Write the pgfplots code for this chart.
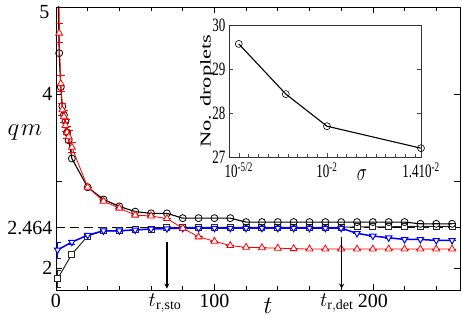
\documentclass[border=0pt]{standalone}
\usepackage{pgfplots}
\pgfplotsset{compat=1.18}
\usepackage{fontspec}
\setmainfont{Liberation Serif}
\newcommand{\st}[1]{\scalebox{1}[1.45]{#1}}
\begin{document}
\begin{tikzpicture}
\begin{axis}[
  scale only axis, width=404pt, height=283pt,
  xmin=0, xmax=255, ymin=1.75, ymax=5,
  xtick={0,100,200}, xticklabels={0,100,200},
  minor xtick={20,40,60,80,120,140,160,180,220,240},
  ytick={2,3,4,5}, yticklabels={2,,4,},
  extra y ticks={2.464}, extra y tick labels={2.464},
  tick label style={font=\fontsize{20}{22}\selectfont},
  tick align=inside,
  major tick length=6pt, minor tick length=4pt,
  axis line style={line width=0.9pt},
  every tick/.style={black, line width=0.7pt},
  clip mode=individual,
  xticklabel style={yshift=-1pt},
]
\draw[black, line width=1.2pt, dash pattern=on 9pt off 5pt] (axis cs:0,2.464) -- (axis cs:255,2.464);
% squares
\addplot[black!85, line width=1pt, mark=square*, mark size=3pt, mark options={fill=white, solid},
  error bars/.cd, y dir=both, y explicit] coordinates {
(1,1.88) +- (0,0.1) (10,2.16) +- (0,0) (20,2.37) +- (0,0) (30,2.43) +- (0,0) (40,2.43) +- (0,0) (50,2.44) +- (0,0) (60,2.45) +- (0,0)
(70,2.47) +- (0,0) (80,2.47) +- (0,0) (90,2.47) +- (0,0) (100,2.47) +- (0,0) (110,2.47) +- (0,0) (120,2.47) +- (0,0) (130,2.47) +- (0,0)
(140,2.47) +- (0,0) (150,2.47) +- (0,0) (160,2.47) +- (0,0) (170,2.47) +- (0,0) (180,2.47) +- (0,0) (190,2.475) +- (0,0)
(200,2.475) +- (0,0) (210,2.475) +- (0,0) (220,2.48) +- (0,0) (230,2.48) +- (0,0) (240,2.48) +- (0,0) (250,2.48) +- (0,0)};
% blue
\addplot[blue, line width=1.5pt, mark=triangle*, mark size=3.6pt, mark options={fill=white, solid, rotate=180, line width=1pt},
  error bars/.cd, y dir=both, y explicit] coordinates {
(1,2.21) +- (0,0.09) (10,2.30) +- (0,0.02) (20,2.38) +- (0,0) (30,2.43) +- (0,0) (40,2.43) +- (0,0) (50,2.44) +- (0,0) (60,2.45) +- (0,0)
(70,2.455) +- (0,0) (80,2.46) +- (0,0) (90,2.46) +- (0,0) (100,2.46) +- (0,0) (110,2.46) +- (0,0) (120,2.46) +- (0,0) (130,2.46) +- (0,0)
(140,2.46) +- (0,0) (150,2.46) +- (0,0) (160,2.46) +- (0,0) (170,2.46) +- (0,0) (180,2.46) +- (0,0) (190,2.40) +- (0,0)
(200,2.37) +- (0,0) (210,2.35) +- (0,0) (220,2.33) +- (0,0) (230,2.33) +- (0,0) (240,2.32) +- (0,0) (250,2.32) +- (0,0)};
% circles
\addplot[black, line width=1.1pt, mark=o, mark size=3.5pt, mark options={fill=white, solid, line width=0.8pt}] coordinates {
(0.5,6.0) (2,4.47) (3,4.08) (4,3.86) (5,3.76) (6,3.69) (7,3.56) (8,3.47) (10,3.26) (20,2.93) (30,2.79) (40,2.71) (50,2.65)
(60,2.63) (70,2.63) (80,2.575) (90,2.575) (100,2.575) (110,2.575) (120,2.53) (130,2.53) (140,2.53) (150,2.53) (160,2.53)
(170,2.53) (180,2.53) (190,2.53) (200,2.53) (210,2.53) (220,2.53) (230,2.51) (240,2.51) (250,2.51)};
% red
\addplot[red, line width=0.8pt, mark=triangle*, mark size=4pt, mark options={fill=white, solid, line width=0.8pt},
  error bars/.cd, y dir=both, y explicit, error bar style={line width=0.8pt}, error mark options={rotate=90, mark size=4pt, line width=0.8pt}] coordinates {
(1.8,6.0) +- (0,0) (2,4.70) +- (0,0.11) (3,4.12) +- (0,0.09) (4,3.82) +- (0,0.07) (5,3.74) +- (0,0.07) (6,3.64) +- (0,0.07) (7,3.56) +- (0,0.07) (8,3.51) +- (0,0.07) (10,3.39) +- (0,0.06)
(20,2.93) +- (0,0) (30,2.77) +- (0,0) (40,2.69) +- (0,0) (50,2.61) +- (0,0) (60,2.60) +- (0,0) (70,2.57) +- (0,0) (80,2.46) +- (0,0)
(90,2.36) +- (0,0) (100,2.31) +- (0,0) (110,2.26) +- (0,0) (120,2.24) +- (0,0) (130,2.235) +- (0,0) (140,2.23) +- (0,0)
(150,2.225) +- (0,0) (160,2.22) +- (0,0) (170,2.22) +- (0,0) (180,2.22) +- (0,0) (190,2.22) +- (0,0) (200,2.22) +- (0,0)
(210,2.22) +- (0,0) (220,2.22) +- (0,0) (230,2.22) +- (0,0) (240,2.22) +- (0,0) (250,2.22) +- (0,0)};
% arrows and labels
\draw[-stealth, line width=1.3pt] (axis cs:70,2.30) -- (axis cs:70,1.765);
\draw[-stealth, line width=1.3pt] (axis cs:180.3,2.36) -- (axis cs:180.3,1.765);
\node[font=\fontsize{20}{22}\selectfont, anchor=east] at (rel axis cs:0,1) [xshift=-3pt, yshift=-5pt] {5};
\node[font=\fontsize{20}{22}\selectfont] at (rel axis cs:0.270,-0.045) {$t_{\mathrm{r,sto}}$};
\node[font=\fontsize{20}{22}\selectfont] at (rel axis cs:0.695,-0.045) {$t_{\mathrm{r,det}}$};
\node[font=\fontsize{28}{30}\selectfont] at (rel axis cs:0.525,-0.055) {$t$};
\node[font=\fontsize{26}{28}\selectfont] at (rel axis cs:-0.077,0.555) {$q\mkern1mu m$};
\end{axis}
\begin{axis}[
  at={(173pt,133pt)}, anchor=south west,
  scale only axis, width=192pt, height=132pt,
  xmin=0, xmax=19.6, ymin=27, ymax=30,
  xtick={1,10,19.6}, xticklabels={\st{10\textsuperscript{-5/2}},\st{10\textsuperscript{-2}},\st{1.410\textsuperscript{-2}}},
  minor xtick={2,3,4,5,6,7,8,9,11,12,13,14,15,16,17,18,19},
  xtick pos=bottom,
  ytick={27,28,29,30}, yticklabels={\st{27},\st{28},\st{29},\st{30}},
  tick label style={font=\fontsize{13}{15}\selectfont},
  xticklabel style={yshift=-2pt},
  tick align=inside,
  major tick length=4pt, minor tick length=2.5pt,
  axis line style={line width=0.6pt, black!80},
  every tick/.style={black!70, line width=0.5pt},
  axis background/.style={fill=white},
  clip=false,
]
\addplot[black, line width=1.1pt, mark=o, mark size=3.5pt, mark options={fill=white, solid, line width=0.6pt}] coordinates {
(1,29.57) (5.8,28.43) (10,27.70) (19.6,27.20)};
\node[font=\fontsize{16}{18}\selectfont] at (rel axis cs:0.693,-0.14) {\st{$\sigma$}};
\node[font=\fontsize{15}{17}\selectfont, rotate=90] at (rel axis cs:-0.115,0.5) {\scalebox{1.5}[1]{No. droplets}};
\end{axis}
\pgfresetboundingbox
\path (-56pt,-33pt) rectangle (407pt,290pt);
\end{tikzpicture}
\end{document}
